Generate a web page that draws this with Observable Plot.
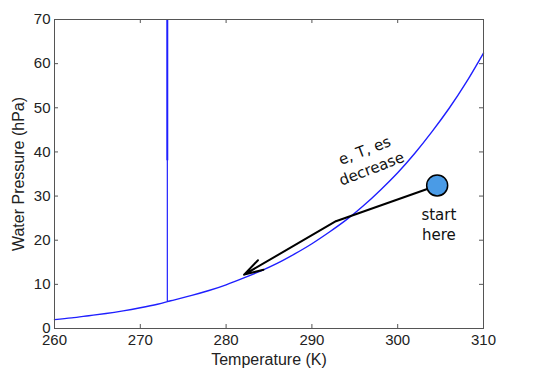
<!DOCTYPE html>
<html>
<head>
<meta charset="utf-8">
<script src="https://cdn.jsdelivr.net/npm/d3@7"></script>
<script src="https://cdn.jsdelivr.net/npm/@observablehq/plot@0.6"></script>
<style>
  html, body { margin: 0; padding: 0; background: #ffffff; }
  #chart svg { display: block; }
</style>
</head>
<body>
<div id="chart"></div>
<script>
// Saturation vapour pressure curve
const tempK = [260, 262, 264, 266, 268, 270, 272, 273.15, 274, 276, 278, 280, 282, 284, 286, 288, 290, 292, 294, 296, 298, 300, 302, 304, 306, 308, 310];
const esat  = [2.0, 2.4, 2.9, 3.4, 4.0, 4.7, 5.5, 6.1, 6.5, 7.5, 8.6, 9.9, 11.4, 13.0, 14.8, 16.9, 19.2, 21.8, 24.6, 27.8, 31.4, 35.3, 39.7, 44.6, 49.9, 55.8, 62.4];

// Vertical line at the melting point
const meltT = 273.15;
const meltE = [6.1, 70];
const meltThickE = [38, 70];

// Parcel path: start point, kink, arrow tip
const pathT = [304.6, 292.8, 282.1];
const pathE = [32.4, 24.3, 12.2];

// Ticks
const xTicks = [260, 270, 280, 290, 300, 310];
const yTicks = [0, 10, 20, 30, 40, 50, 60, 70];

// Annotations
const notes = [
  {t: 296.5, e: 38.5, text: "e, T, es\ndecrease", rotate: -21},
  {t: 304.8, e: 23.7, text: "start\nhere", rotate: 0}
];

const curve = tempK.map((t, i) => ({t, e: esat[i]}));
const W = 550, H = 378;
const mL = 54, mR = 67, mT = 19, mB = 50;
const fw = W - mL - mR, fh = H - mT - mB;
const tickLen = 4;
const axisFont = "'Liberation Sans', Arial, sans-serif";
const noteFont = "'DejaVu Sans', sans-serif";

const chart = Plot.plot({
  width: W, height: H,
  marginLeft: mL, marginRight: mR, marginTop: mT, marginBottom: mB,
  style: {background: "#ffffff", color: "#222"},
  x: {domain: [260, 310]},
  y: {domain: [0, 70]},
  marks: [
    // curve
    Plot.line(curve, {x: "t", y: "e", stroke: "#1f1fff", strokeWidth: 1.4, curve: "natural"}),
    // melting point line
    Plot.ruleX([meltT], {y1: meltE[0], y2: meltE[1], stroke: "#1f1fff", strokeWidth: 1.2}),
    Plot.ruleX([meltT], {y1: meltThickE[0], y2: meltThickE[1], stroke: "#1f1fff", strokeWidth: 1.9}),
    // parcel path
    Plot.link([0], {x1: () => pathT[0], y1: () => pathE[0], x2: () => pathT[1], y2: () => pathE[1], stroke: "#000", strokeWidth: 2}),
    Plot.arrow([0], {x1: () => pathT[1], y1: () => pathE[1], x2: () => pathT[2], y2: () => pathE[2], stroke: "#000", strokeWidth: 2, headLength: 15, headAngle: 32}),
    Plot.dot([0], {x: () => pathT[0], y: () => pathE[0], r: 10.5, fill: "#4a9be6", stroke: "#000", strokeWidth: 1.5}),
    // annotations
    Plot.text(notes, {x: "t", y: "e", text: "text", rotate: "rotate", fontSize: 15, fontFamily: noteFont, fill: "#111", lineHeight: 1.3, textAnchor: "middle", lineAnchor: "middle"}),
    // inward ticks (bottom, top, left, right)
    Plot.tickX(xTicks, {x: d => d, insetTop: fh - tickLen, stroke: "#555"}),
    Plot.tickX(xTicks, {x: d => d, insetBottom: fh - tickLen, stroke: "#555"}),
    Plot.tickY(yTicks, {y: d => d, insetRight: fw - tickLen, stroke: "#555"}),
    Plot.tickY(yTicks, {y: d => d, insetLeft: fw - tickLen, stroke: "#555"}),
    // axes labels
    Plot.axisX({ticks: xTicks, tickSize: 0, tickPadding: 6, fontSize: 15, fontFamily: axisFont, label: null}),
    Plot.axisY({ticks: yTicks, tickSize: 0, tickPadding: 4, fontSize: 15, fontFamily: axisFont, label: null}),
    Plot.axisX({ticks: [], tickSize: 0, label: "Temperature (K)", labelAnchor: "center", labelArrow: "none", labelOffset: 36, fontSize: 16, fontFamily: axisFont}),
    Plot.axisY({ticks: [], tickSize: 0, label: "Water Pressure (hPa)", labelAnchor: "center", labelArrow: "none", labelOffset: 42, fontSize: 16, fontFamily: axisFont}),
    Plot.frame({stroke: "#555", strokeWidth: 1})
  ]
});
document.getElementById("chart").appendChild(chart);
</script>
</body>
</html>
